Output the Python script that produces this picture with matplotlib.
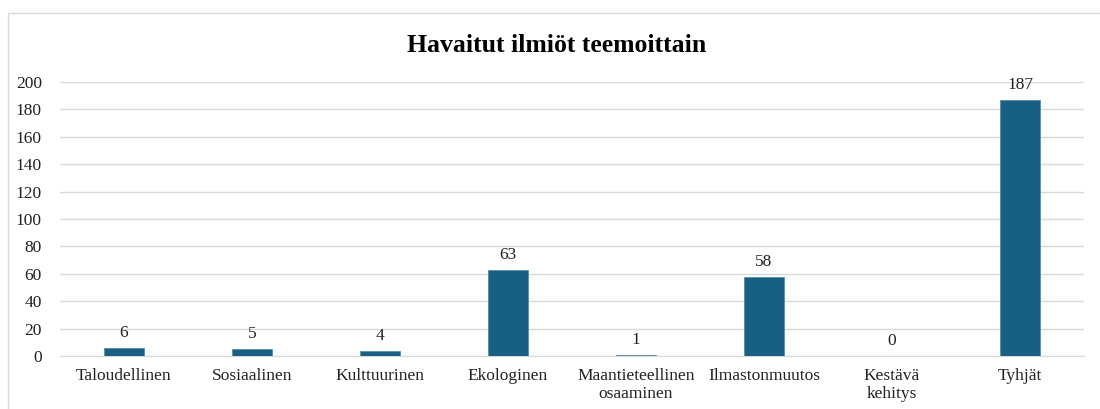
import numpy as np
import matplotlib.pyplot as plt
from matplotlib.patches import Rectangle

kategoriat = ['Taloudellinen', 'Sosiaalinen', 'Kulttuurinen', 'Ekologinen',
              'Maantieteellinen\nosaaminen', 'Ilmastonmuutos', 'Kestävä\nkehitys', 'Tyhjät']
maarat = [6, 5, 4, 63, 1, 58, 0, 187]

plt.rcParams['font.family'] = ['Liberation Serif', 'DejaVu Serif']

f = plt.figure(figsize=(11, 4.09), dpi=100)
ax = f.add_axes([60/1100, 1-356/409, 1024/1100, 274/409])

# kehys kaavion ympärillä
f.patches.append(Rectangle((8/1100, -0.1), 1.2, 1-13/409+0.1, transform=f.transFigure,
                           fill=False, edgecolor='#D9D9D9', linewidth=1))

x = np.arange(len(kategoriat))
palkit = ax.bar(x, maarat, width=0.3125, color='#175F83', edgecolor='#5A8CA8', linewidth=0.6, zorder=3)
for xi, v in zip(x, maarat):
    ax.annotate(str(v), (xi, v), xytext=(0, 5), textcoords='offset points',
                ha='center', va='bottom', fontsize=12.5, color='#222222')

ax.set_xlim(-0.5, len(kategoriat)-0.5)
ax.set_ylim(0, 200)
ax.set_yticks(range(0, 201, 20))
ax.set_xticks(x)
ax.set_xticklabels(kategoriat, fontsize=12.5, color='#222222', linespacing=1.15)
ax.tick_params(axis='y', length=0, pad=13, labelsize=12.5, labelcolor='#222222')
ax.tick_params(axis='x', length=0, pad=9)
ax.grid(axis='y', color='#D9D9D9', linewidth=1, zorder=0)
for s in ['top', 'right', 'left']:
    ax.spines[s].set_visible(False)
ax.spines['bottom'].set_color('#D9D9D9')

f.text(0.506, 1-45/409, 'Havaitut ilmiöt teemoittain', ha='center', va='center',
       fontsize=18.5, fontweight='bold', color='#000000')

f.savefig('out.png', dpi=100)
